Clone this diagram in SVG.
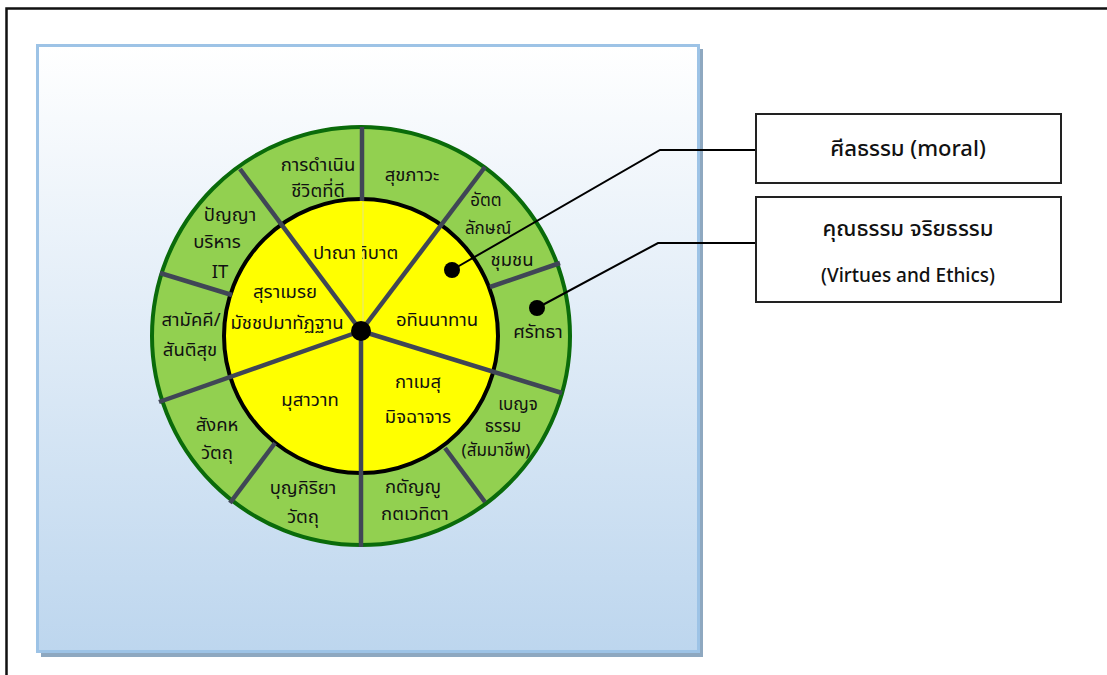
<svg xmlns="http://www.w3.org/2000/svg" width="1107" height="675" viewBox="0 0 1107 675">
<defs>
<linearGradient id="panelGrad" x1="0" y1="0" x2="0" y2="1">
<stop offset="0" stop-color="#FFFFFF"/>
<stop offset="1" stop-color="#BDD6EE"/>
</linearGradient>
<style>
.t{font-family:"Noto Sans Thai","Noto Sans","DejaVu Sans",sans-serif;font-size:18.5px;fill:#111;text-anchor:middle}
.s{font-family:"Noto Sans Thai","Noto Sans","DejaVu Sans",sans-serif;font-size:17px;fill:#111;text-anchor:middle}
.b{font-family:"Noto Sans Thai","Noto Sans","DejaVu Sans",sans-serif;font-size:22px;fill:#111;text-anchor:middle;font-weight:500}
.e{font-family:"Noto Sans","DejaVu Sans",sans-serif;font-size:19px;fill:#111;text-anchor:middle;font-weight:500}
.div{stroke:#404656;stroke-width:4.5;fill:none}
.call{stroke:#000;stroke-width:2;fill:none}
.box{fill:#fff;stroke:#222;stroke-width:2}
</style>
</defs>
<rect x="0" y="0" width="1107" height="675" fill="#fff"/>
<rect x="6.5" y="8.5" width="1200" height="700" fill="none" stroke="#111" stroke-width="2.5"/>
<g id="panel">
<rect x="41" y="49" width="662" height="608" fill="#8EA8C0"/>
<rect x="37.5" y="45.5" width="661" height="606" fill="url(#panelGrad)" stroke="#9DC3E6" stroke-width="3"/>
</g>
<g id="wheel">
<circle cx="361" cy="336" r="209" fill="#92D050" stroke="#0A6B0A" stroke-width="4"/>
<circle cx="361" cy="336" r="137" fill="#FFFF00" stroke="#000" stroke-width="4"/>
<line x1="363" y1="202" x2="363" y2="328" stroke="#E3E38A" stroke-width="1"/>
</g>
<g id="dividers">
<line class="div" x1="362" y1="127" x2="362" y2="201"/>
<line class="div" x1="240" y1="169" x2="361" y2="331"/>
<line class="div" x1="160" y1="273" x2="232" y2="295"/>
<line class="div" x1="159" y1="402" x2="361" y2="331"/>
<line class="div" x1="230" y1="503" x2="275" y2="443"/>
<line class="div" x1="361" y1="331" x2="361" y2="547"/>
<line class="div" x1="445" y1="448" x2="485" y2="502"/>
<line class="div" x1="361" y1="331" x2="562" y2="393"/>
<line class="div" x1="490" y1="287" x2="560" y2="263"/>
<line class="div" x1="361" y1="331" x2="485" y2="167"/>
</g>
<g id="inner-labels">
<text class="t" x="313" y="259" style="text-anchor:start">ปาณาติบาต</text>
<rect x="356" y="244" width="6" height="22" fill="#FFFF00"/>
<text class="t" x="285" y="298">สุราเมรย</text>
<text class="t" x="287" y="329">มัชชปมาทัฏฐาน</text>
<text class="t" x="437" y="326">อทินนาทาน</text>
<text class="t" x="418" y="388">กาเมสุ</text>
<text class="t" x="418" y="423">มิจฉาจาร</text>
<text class="t" x="310" y="406">มุสาวาท</text>
</g>
<g id="ring-labels">
<text class="t" x="318" y="171">การดำเนิน</text>
<text class="t" x="318" y="197">ชีวิตที่ดี</text>
<text class="t" x="412" y="181">สุขภาวะ</text>
<text class="s" x="486" y="206">อัตต</text>
<text class="s" x="488" y="234">ลักษณ์</text>
<text class="t" x="512" y="266">ชุมชน</text>
<text class="t" x="538" y="338">ศรัทธา</text>
<text class="s" x="518" y="410">เบญจ</text>
<text class="s" x="503" y="432">ธรรม</text>
<text class="s" x="496" y="456">(สัมมาชีพ)</text>
<text class="t" x="413" y="493">กตัญญู</text>
<text class="t" x="415" y="520">กตเวทิตา</text>
<text class="t" x="303" y="494">บุญกิริยา</text>
<text class="t" x="303" y="523">วัตถุ</text>
<text class="t" x="217" y="431">สังคห</text>
<text class="t" x="217" y="459">วัตถุ</text>
<text class="t" x="191" y="326">สามัคคี/</text>
<text class="t" x="190" y="356">สันติสุข</text>
<text class="t" x="230" y="221">ปัญญา</text>
<text class="t" x="217" y="248">บริหาร</text>
<text class="t" x="220" y="278">IT</text>
</g>
<g id="connectors">
<polyline class="call" points="452,270 660,150 757,150"/>
<polyline class="call" points="537,308 658,243 757,243"/>
<circle cx="452" cy="270" r="8" fill="#000"/>
<circle cx="537" cy="308" r="8" fill="#000"/>
<circle cx="361" cy="331" r="10" fill="#000"/>
</g>
<g id="box-moral">
<rect class="box" x="756" y="114" width="305" height="69"/>
<text class="b" x="908" y="156">ศีลธรรม (moral)</text>
</g>
<g id="box-virtues">
<rect class="box" x="756" y="197" width="305" height="105"/>
<text class="b" x="908" y="236">คุณธรรม จริยธรรม</text>
<text class="e" x="908" y="282">(Virtues and Ethics)</text>
</g>
</svg>
